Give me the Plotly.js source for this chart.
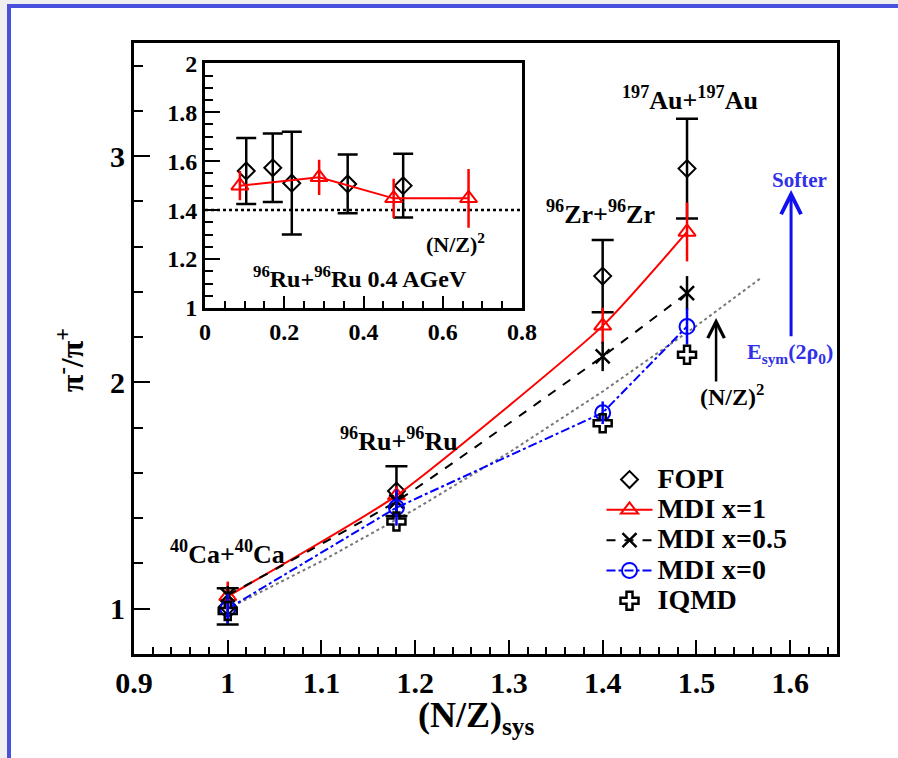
<!DOCTYPE html>
<html>
<head>
<meta charset="utf-8">
<script src="https://cdn.plot.ly/plotly-3.0.1.min.js"></script>
<style>
  html, body { margin: 0; padding: 0; background: #efefef; width: 898px; height: 758px; overflow: hidden; }
  #frame { position: absolute; left: 7px; top: 4px; width: 891px; height: 754px; background: #ffffff;
           border-left: 4px solid #4850dc; border-top: 4px solid #4850dc; box-sizing: border-box; }
  #plot { position: absolute; left: 0; top: 0; width: 898px; height: 758px; }
</style>
</head>
<body>
<div id="frame"></div>
<div id="plot"></div>
<script>
// ---------- main panel data ----------
const nzSys = [1.0, 1.18, 1.40, 1.49];
const fopiY = [1.01, 1.52, 2.47, 2.945];
const fopiErr = [0.08, 0.11, 0.16, 0.22];
const mdi1Y = [1.055, 1.50, 2.25, 2.665];
const mdi1Err = [0.065, 0.04, 0.08, 0.13];
const mdi05Y = [1.06, 1.475, 2.115, 2.395];
const mdi05Err = [0.04, 0.04, 0.065, 0.075];
const mdi0Y = [1.00, 1.447, 1.866, 2.247];
const mdi0Err = [0.065, 0.08, 0.05, 0.08];
const iqmdY = [0.99, 1.386, 1.82, 2.122];
const nzLineX = [1.0, 1.1, 1.2, 1.3, 1.4, 1.5, 1.57];
const nzLineY = [1.0, 1.21, 1.44, 1.69, 1.96, 2.25, 2.465];
const xTickVals = [0.9, 1.0, 1.1, 1.2, 1.3, 1.4, 1.5, 1.6];
const xTickText = ['0.9', '1', '1.1', '1.2', '1.3', '1.4', '1.5', '1.6'];
const yTickVals = [1, 2, 3];
const yTickText = ['1', '2', '3'];

// ---------- inset data ----------
const insetB = [0.104, 0.171, 0.219, 0.36, 0.50];
const insetFopiY = [1.56, 1.573, 1.51, 1.507, 1.50];
const insetFopiErr = [0.135, 0.14, 0.21, 0.12, 0.13];
const insetMdiB = [0.088, 0.288, 0.476, 0.665];
const insetMdiY = [1.50, 1.534, 1.448, 1.448];
const insetMdiErr = [0.06, 0.072, 0.08, 0.12];
const insetRefX = [0, 0.8];
const insetRefY = [1.4, 1.4];
const insetXTickVals = [0, 0.2, 0.4, 0.6, 0.8];
const insetXTickText = ['0', '0.2', '0.4', '0.6', '0.8'];
const insetYTickVals = [1, 1.2, 1.4, 1.6, 1.8, 2];
const insetYTickText = ['1', '1.2', '1.4', '1.6', '1.8', '2'];

const legendNames = ['FOPI', 'MDI x=1', 'MDI x=0.5', 'MDI x=0', 'IQMD'];

const SERIF = '"Liberation Serif", "Times New Roman", serif';
const RED = '#ff0000', BLUE = '#0000ff', BLK = '#000000';
const lg = s => '<span style="font-size:28px">' + s + '</span>';

const traces = [
  { x: nzLineX, y: nzLineY, mode: 'lines', showlegend: false,
    line: { color: '#777777', width: 2, dash: 'dot' }, xaxis: 'x', yaxis: 'y' },
  { x: nzSys, y: fopiY, name: lg(legendNames[0]), mode: 'markers',
    marker: { symbol: 'diamond-open', size: 13, color: BLK, line: { width: 2, color: BLK } },
    error_y: { type: 'data', array: fopiErr, visible: true, color: BLK, thickness: 2.5, width: 11 } },
  { x: nzSys, y: mdi1Y, name: lg(legendNames[1]), mode: 'lines+markers',
    line: { color: RED, width: 2, shape: 'spline', smoothing: 0.5 },
    marker: { symbol: 'triangle-up-open', size: 15, color: RED, line: { width: 2, color: RED } },
    error_y: { type: 'data', array: mdi1Err, visible: true, color: RED, thickness: 2.5, width: 0 } },
  { x: nzSys, y: mdi05Y, name: lg(legendNames[2]), mode: 'lines+markers',
    line: { color: BLK, width: 2, dash: 'dash', shape: 'spline', smoothing: 0.5 },
    marker: { symbol: 'x-thin-open', size: 14, color: BLK, line: { width: 2.5, color: BLK } },
    error_y: { type: 'data', array: mdi05Err, visible: true, color: BLK, thickness: 2.5, width: 0 } },
  { x: nzSys, y: mdi0Y, name: lg(legendNames[3]), mode: 'lines+markers',
    line: { color: BLUE, width: 2, dash: 'dashdot' },
    marker: { symbol: 'circle-open', size: 15, color: BLUE, line: { width: 2, color: BLUE } },
    error_y: { type: 'data', array: mdi0Err, visible: true, color: BLUE, thickness: 2.5, width: 0 } },
  { x: nzSys, y: iqmdY, name: lg(legendNames[4]), mode: 'markers',
    marker: { symbol: 'cross-open', size: 15, color: BLK, line: { width: 2.5, color: BLK } } },
  // inset
  { x: insetRefX, y: insetRefY, mode: 'lines', showlegend: false, xaxis: 'x2', yaxis: 'y2',
    line: { color: BLK, width: 2.5, dash: 'dot' } },
  { x: insetB, y: insetFopiY, mode: 'markers', showlegend: false, xaxis: 'x2', yaxis: 'y2',
    marker: { symbol: 'diamond-open', size: 13, color: BLK, line: { width: 2, color: BLK } },
    error_y: { type: 'data', array: insetFopiErr, visible: true, color: BLK, thickness: 2.5, width: 10 } },
  { x: insetMdiB, y: insetMdiY, mode: 'lines+markers', showlegend: false, xaxis: 'x2', yaxis: 'y2',
    line: { color: RED, width: 2 },
    marker: { symbol: 'triangle-up-open', size: 15, color: RED, line: { width: 2, color: RED } },
    error_y: { type: 'data', array: insetMdiErr, visible: true, color: RED, thickness: 2.5, width: 0 } }
];

const axisCommon = {
  showgrid: false, zeroline: false, showline: true, linecolor: BLK, mirror: true,
  ticks: 'inside', tickcolor: BLK, tickwidth: 2, tickmode: 'array'
};

const ann = (x, y, text, size, color, xref, yref, extra) => Object.assign({
  x: x, y: y, xref: xref || 'x', yref: yref || 'y', text: text, showarrow: false,
  font: { family: SERIF, size: size, color: color || BLK, weight: 'bold' },
  xanchor: 'center', yanchor: 'middle'
}, extra || {});

const layout = {
  width: 898, height: 758,
  margin: { l: 134, r: 61, t: 43, b: 104, pad: 0 },
  paper_bgcolor: 'rgba(0,0,0,0)', plot_bgcolor: 'rgba(0,0,0,0)',
  font: { family: SERIF, color: BLK, weight: 'bold' },
  showlegend: true,
  legend: {
    x: 0.665, y: 0.3185, xanchor: 'left', yanchor: 'top',
    bgcolor: 'rgba(0,0,0,0)', borderwidth: 0, itemwidth: 46,
    font: { family: SERIF, size: 21, color: BLK, weight: 'bold' },
    tracegroupgap: 0
  },
  xaxis: Object.assign({}, axisCommon, {
    range: [0.9, 1.65], tickvals: xTickVals, ticktext: xTickText, linewidth: 3, ticklen: 14,
    tickfont: { family: SERIF, size: 30, weight: 'bold' },
    minor: { dtick: 0.02, tick0: 0.9, ticks: 'inside', ticklen: 7, tickwidth: 2, tickcolor: BLK, showgrid: false }
  }),
  yaxis: Object.assign({}, axisCommon, {
    range: [0.8, 3.5], tickvals: yTickVals, ticktext: yTickText, linewidth: 3, ticklen: 16,
    tickfont: { family: SERIF, size: 30, weight: 'bold' },
    minor: { dtick: 0.2, tick0: 0, ticks: 'inside', ticklen: 9, tickwidth: 2, tickcolor: BLK, showgrid: false }
  }),
  xaxis2: Object.assign({}, axisCommon, {
    domain: [0.101, 0.552], anchor: 'y2',
    range: [0, 0.8], tickvals: insetXTickVals, ticktext: insetXTickText, linewidth: 3, ticklen: 12,
    tickfont: { family: SERIF, size: 24, weight: 'bold' },
    minor: { dtick: 0.05, tick0: 0, ticks: 'inside', ticklen: 7, tickwidth: 2, tickcolor: BLK, showgrid: false }
  }),
  yaxis2: Object.assign({}, axisCommon, {
    domain: [0.5663, 0.9668], anchor: 'x2',
    range: [1, 2], tickvals: insetYTickVals, ticktext: insetYTickText, linewidth: 3, ticklen: 15,
    tickfont: { family: SERIF, size: 24, weight: 'bold' },
    minor: { dtick: 0.05, tick0: 0, ticks: 'inside', ticklen: 8, tickwidth: 2, tickcolor: BLK, showgrid: false }
  }),
  annotations: [
    ann(1.0, 1.25, '<sup>40</sup>Ca+<sup>40</sup>Ca', 26),
    ann(1.183, 1.747, '<sup>96</sup>Ru+<sup>96</sup>Ru', 26),
    ann(1.398, 2.753, '<sup>96</sup>Zr+<sup>96</sup>Zr', 26),
    ann(1.493, 3.256, '<sup>197</sup>Au+<sup>197</sup>Au', 26),
    ann(1.610, 2.894, 'Softer', 21, '#3030e8'),
    ann(1.600, 2.131, 'E<sub>sym</sub>(2ρ<sub>0</sub>)', 22, '#3030e8'),
    ann(1.538, 1.946, '(N/Z)<sup>2</sup>', 24),
    { x: 1.601, y: 2.850, ax: 1.601, ay: 2.197, xref: 'x', yref: 'y', axref: 'x', ayref: 'y',
      text: '', showarrow: true, arrowhead: 5, arrowsize: 1.3, arrowwidth: 3, arrowcolor: '#1010f0', standoff: 0 },
    { x: 1.521, y: 2.285, ax: 1.521, ay: 1.998, xref: 'x', yref: 'y', axref: 'x', ayref: 'y',
      text: '', showarrow: true, arrowhead: 5, arrowsize: 1.3, arrowwidth: 2.5, arrowcolor: BLK, standoff: 0 },
    ann(0.631, 1.266, '(N/Z)<sup>2</sup>', 22, BLK, 'x2', 'y2'),
    ann(0.391, 1.127, '<sup>96</sup>Ru+<sup>96</sup>Ru 0.4 AGeV', 24, BLK, 'x2', 'y2'),
    ann(0.399, 0.816, 'b/b<sub>max</sub>', 40, BLK, 'x2', 'y2'),
    ann(0.4865, -0.1047, '(N/Z)<sub>sys</sub>', 36, BLK, 'paper', 'paper'),
    ann(-0.091, 0.481, 'π<sup>-</sup>/π<sup>+</sup>', 32, BLK, 'paper', 'paper', { textangle: -90 })
  ]
};

Plotly.newPlot('plot', traces, layout, { displayModeBar: false, staticPlot: true });
</script>
</body>
</html>
